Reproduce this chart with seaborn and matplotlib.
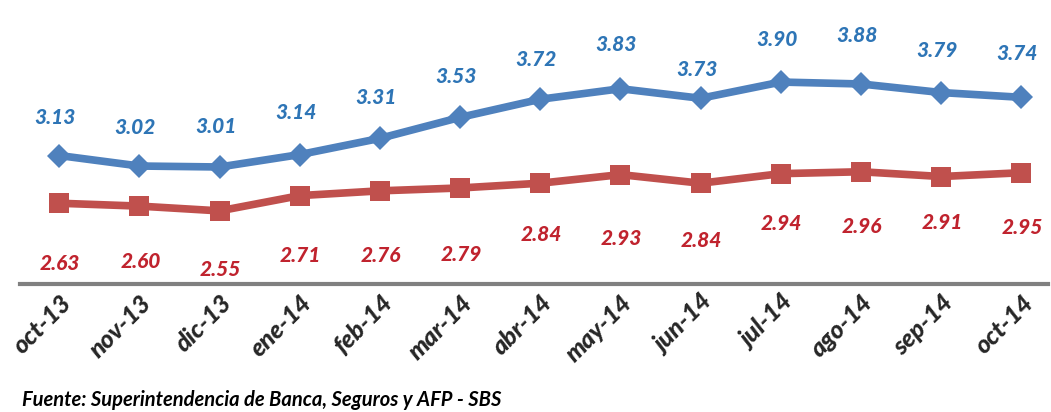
import pandas as pd
import seaborn as sns
import matplotlib.pyplot as plt

months = ["oct-13", "nov-13", "dic-13", "ene-14", "feb-14", "mar-14", "abr-14",
          "may-14", "jun-14", "jul-14", "ago-14", "sep-14", "oct-14"]
serie_azul = [3.13, 3.02, 3.01, 3.14, 3.31, 3.53, 3.72, 3.83, 3.73, 3.90, 3.88, 3.79, 3.74]
serie_roja = [2.63, 2.60, 2.55, 2.71, 2.76, 2.79, 2.84, 2.93, 2.84, 2.94, 2.96, 2.91, 2.95]

# label offsets in pixels (labels were hand-placed in the original)
off_azul = [38, 39, 40, 42, 41, 41, 40, 44, 29, 43, 48, 42, 44]
off_roja = [60, 55, 59, 60, 65, 67, 51, 64, 57, 50, 55, 46, 55]

sns.set_style("white")
plt.rcParams['font.family'] = ['Lato', 'DejaVu Sans']

df = pd.DataFrame({"mes": months, "azul": serie_azul, "roja": serie_roja})
df["pos"] = range(len(months))

fig = plt.figure(figsize=(10.51, 4.12), dpi=100)
ax = fig.add_axes([0.019, 0.311, 0.978, 0.689])

sns.lineplot(data=df, x="pos", y="azul", ax=ax, color="#4F81BD", lw=5.5,
             marker="D", markersize=12, markeredgewidth=0)
sns.lineplot(data=df, x="pos", y="roja", ax=ax, color="#C0504D", lw=5.5,
             marker="s", markersize=14, markeredgewidth=0)

for i, v in enumerate(serie_azul):
    ax.annotate(f"{v:.2f}", (i, v), xytext=(-4, off_azul[i]), textcoords="offset pixels",
                ha="center", va="center", color="#2E75B6", fontsize=15,
                fontweight="black", fontstyle="italic")
for i, v in enumerate(serie_roja):
    ax.annotate(f"{v:.2f}", (i, v), xytext=(1, -off_roja[i]), textcoords="offset pixels",
                ha="center", va="center", color="#C0232E", fontsize=15,
                fontweight="black", fontstyle="italic")

ax.set_xlim(-0.49, 12.33)
ax.set_ylim(1.785, 4.76)
ax.set_yticks([])
ax.set_xticks(df["pos"])
ax.set_xticklabels(months, rotation=45, ha="right", rotation_mode="anchor",
                   fontsize=18, fontweight="black", fontstyle="italic")
ax.tick_params(axis="x", length=0, pad=5)
ax.set_xlabel("")
ax.set_ylabel("")
for s in ["top", "left", "right"]:
    ax.spines[s].set_visible(False)
ax.spines["bottom"].set_color("#808080")
ax.spines["bottom"].set_linewidth(3)

fig.text(0.021, 0.004, "Fuente: Superintendencia de Banca, Seguros y AFP - SBS",
         fontsize=14.5, fontweight="bold", fontstyle="italic", va="bottom", color="black")

fig.savefig("out.png", dpi=100)
